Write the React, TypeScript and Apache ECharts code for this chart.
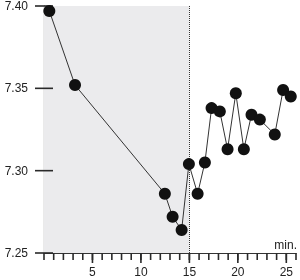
import React, { useEffect, useRef } from "react";
import * as echarts from "echarts";

const minutes = [0.55, 3.2, 12.47, 13.27, 14.2, 14.95, 15.85, 16.6, 17.29, 18.14, 18.94, 19.79, 20.62, 21.41, 22.27, 23.81, 24.67, 25.46];
const phValues = [7.397, 7.352, 7.286, 7.272, 7.264, 7.304, 7.286, 7.305, 7.338, 7.336, 7.313, 7.347, 7.313, 7.334, 7.331, 7.322, 7.349, 7.345];
const yTickValues = [7.25, 7.3, 7.35, 7.4];
const xMinorTickValues = Array.from({ length: 27 }, (_, i) => i);
const xMajorTickValues = [5, 10, 15, 20, 25];
const shadeStart = 0;
const shadeEnd = 15;
const yMin = 7.25;
const yMax = 7.4;
const xMin = 0;
const xMax = 26;

export default function App() {
  const ref = useRef<HTMLDivElement>(null);
  useEffect(() => {
    if (!ref.current) return;
    const chart = echarts.init(ref.current, null, { renderer: "svg" });
    const font = "'Liberation Sans', Arial, sans-serif";
    const axisColor = "#333";
    const tickColor = "#2a2a2a";
    const tickWidth = 1.6;

    const xTickSeries = (values: number[], len: number) => ({
      type: "custom",
      silent: true,
      clip: false,
      z: 3,
      data: values.map((v) => [v, yMin]),
      renderItem: (_params: any, api: any) => {
        const p = api.coord([api.value(0), api.value(1)]);
        return {
          type: "line",
          shape: { x1: p[0], y1: p[1], x2: p[0], y2: p[1] + len },
          style: { stroke: tickColor, lineWidth: tickWidth },
        };
      },
    });

    chart.setOption({
      animation: false,
      textStyle: { fontFamily: font },
      grid: { left: 44, right: 4, top: 5, bottom: 27 },
      xAxis: {
        type: "value",
        min: xMin,
        max: xMax,
        interval: 5,
        axisLine: { show: true, onZero: false, lineStyle: { color: axisColor, width: 1.2 } },
        axisTick: { show: false },
        axisLabel: {
          show: true,
          margin: 13,
          fontSize: 12,
          color: "#222",
          fontFamily: font,
          formatter: (v: number) => (v === 0 || v % 5 !== 0 ? "" : String(v)),
        },
        splitLine: { show: false },
      },
      yAxis: {
        type: "value",
        min: yMin,
        max: yMax,
        interval: 0.05,
        axisLine: { show: true, onZero: false, lineStyle: { color: axisColor, width: 1.2 } },
        axisTick: { show: false },
        axisLabel: {
          show: true,
          margin: 16,
          fontSize: 12,
          color: "#222",
          fontFamily: font,
          formatter: (v: number) => v.toFixed(2),
        },
        splitLine: { show: false },
      },
      graphic: [
        {
          type: "text",
          right: 3,
          top: 239,
          z: 10,
          style: { text: "min.", fontSize: 12, fill: "#222", fontFamily: font },
        },
      ],
      series: [
        xTickSeries(xMinorTickValues, 7),
        xTickSeries(xMajorTickValues, 10),
        {
          type: "custom",
          silent: true,
          clip: false,
          z: 3,
          data: yTickValues.map((v) => [xMin, v]),
          renderItem: (_params: any, api: any) => {
            const p = api.coord([api.value(0), api.value(1)]);
            return {
              type: "line",
              shape: { x1: p[0] - 9, y1: p[1], x2: p[0] + 9, y2: p[1] },
              style: { stroke: tickColor, lineWidth: tickWidth },
            };
          },
        },
        {
          type: "line",
          data: minutes.map((m, i) => [m, phValues[i]]),
          symbol: "circle",
          symbolSize: 12,
          z: 5,
          itemStyle: { color: "#111" },
          lineStyle: { color: "#333", width: 1 },
          markArea: {
            silent: true,
            itemStyle: { color: "#ebebed" },
            data: [[{ xAxis: shadeStart, yAxis: yMax }, { xAxis: shadeEnd, yAxis: yMin }]],
          },
          markLine: {
            silent: true,
            symbol: ["none", "none"],
            label: { show: false },
            lineStyle: { type: "dotted", color: "#333", width: 1 },
            data: [{ xAxis: shadeEnd }],
          },
        },
      ],
    });
    return () => chart.dispose();
  }, []);
  return <div ref={ref} style={{ position: "fixed", left: 0, top: 0, width: 300, height: 280 }} />;
}
